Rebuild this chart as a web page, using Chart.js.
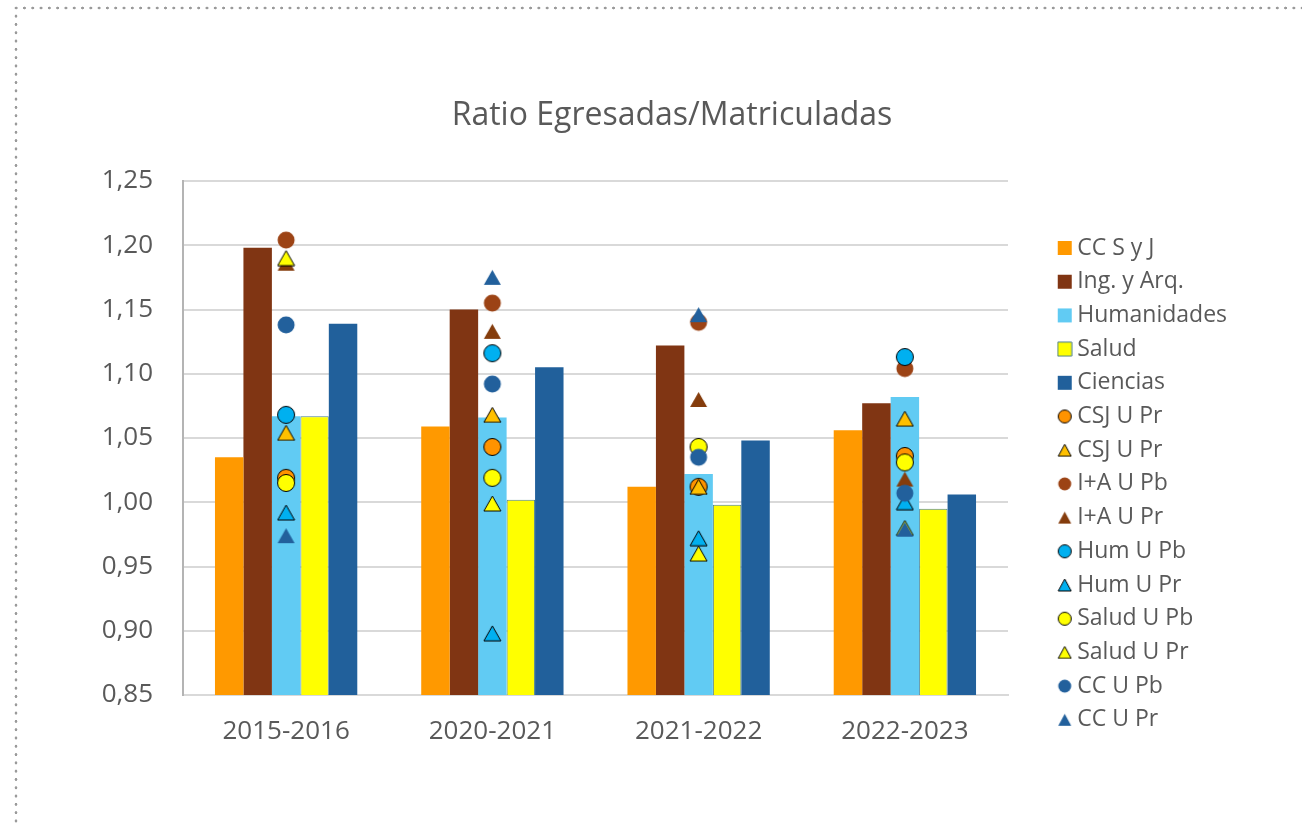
<!DOCTYPE html>
<html>
<head>
<meta charset="utf-8">
<script src="https://cdn.jsdelivr.net/npm/chart.js@4.4.1/dist/chart.umd.min.js"></script>
<style>
  html, body { margin: 0; padding: 0; background: #fff; }
  #wrap { position: relative; width: 1302px; height: 825px; overflow: hidden; }
  #dotTop, #dotLeft {
    position: absolute;
    background-image: radial-gradient(circle, #9a9a9a 1.1px, rgba(0,0,0,0) 1.7px);
  }
  #dotTop { left: 12px; top: 4px; width: 1290px; height: 8px; background-size: 8.3px 8px; background-repeat: repeat-x; }
  #dotLeft { left: 12px; top: 12px; width: 8px; height: 813px; background-size: 8px 8.3px; background-repeat: repeat-y; }
  #myChart { position: absolute; left: 0; top: 0; }
</style>
</head>
<body>
<div id="wrap">
  <div id="dotTop"></div>
  <div id="dotLeft"></div>
  <canvas id="myChart" width="1302" height="825"></canvas>
</div>
<script>
const categories = ['2015-2016', '2020-2021', '2021-2022', '2022-2023'];

// barras
const ccSyJ       = [1.035, 1.059, 1.012, 1.056];
const ingArq      = [1.198, 1.150, 1.122, 1.077];
const humanidades = [1.067, 1.066, 1.022, 1.082];
const salud       = [1.067, 1.002, 0.998, 0.995];
const ciencias    = [1.139, 1.105, 1.048, 1.006];

// puntos (U Pb = universidad pública, U Pr = universidad privada)
const csjPb   = [1.019, 1.043, 1.012, 1.036];
const csjPr   = [1.054, 1.068, 1.012, 1.065];
const iaPb    = [1.204, 1.155, 1.140, 1.104];
const iaPr    = [1.186, 1.133, 1.080, 1.018];
const humPb   = [1.068, 1.116, null, 1.113];
const humPr   = [0.992, 0.898, 0.972, 1.000];
const saludPb = [1.015, 1.019, 1.043, 1.031];
const saludPr = [1.190, 0.999, 0.960, 0.980];
const ccPb    = [1.138, 1.092, 1.035, 1.007];
const ccPr    = [0.974, 1.175, 1.146, 0.979];

const yTicks = [0.85, 0.90, 0.95, 1.00, 1.05, 1.10, 1.15, 1.20, 1.25];

const TEXT = '#595959';
Chart.defaults.font.family = "'Open Sans', 'Noto Sans', sans-serif";
Chart.defaults.color = TEXT;

function marker(shape, fill, stroke, w, h) {
    const c = document.createElement('canvas');
    c.width = w + 2;
    c.height = h + 2;
    const g = c.getContext('2d');
    g.fillStyle = fill;
    g.beginPath();
    if (shape === 'circle') {
        g.arc(c.width / 2, c.height / 2, w / 2 - 0.5, 0, Math.PI * 2);
    } else if (shape === 'triangle') {
        g.moveTo(c.width / 2, 1);
        g.lineTo(c.width - 1, c.height - 1);
        g.lineTo(1, c.height - 1);
        g.closePath();
    } else {
        g.rect(1, 1, w, h);
    }
    g.fill();
    if (stroke) {
        g.strokeStyle = stroke;
        g.lineWidth = 1;
        g.stroke();
    }
    return c;
}

const bars = [
    { label: 'CC S y J', data: ccSyJ, color: '#FF9900' },
    { label: 'Ing. y Arq.', data: ingArq, color: '#803513' },
    { label: 'Humanidades', data: humanidades, color: '#61CBF3' },
    { label: 'Salud', data: salud, color: '#FFFF00', border: '#4a7f8f' },
    { label: 'Ciencias', data: ciencias, color: '#21609B' }
];

const points = [
    { label: 'CSJ U Pr', data: csjPb, shape: 'circle', color: '#FF9300', border: '#000' },
    { label: 'CSJ U Pr', data: csjPr, shape: 'triangle', color: '#FFC000', border: '#000' },
    { label: 'I+A U Pb', data: iaPb, shape: 'circle', color: '#9C4315' },
    { label: 'I+A U Pr', data: iaPr, shape: 'triangle', color: '#843C0C' },
    { label: 'Hum U Pb', data: humPb, shape: 'circle', color: '#00B0F0', border: '#000' },
    { label: 'Hum U Pr', data: humPr, shape: 'triangle', color: '#00B0F0', border: '#000' },
    { label: 'Salud U Pb', data: saludPb, shape: 'circle', color: '#FFFF00', border: '#000' },
    { label: 'Salud U Pr', data: saludPr, shape: 'triangle', color: '#FFFF00', border: '#000' },
    { label: 'CC U Pb', data: ccPb, shape: 'circle', color: '#22609C' },
    { label: 'CC U Pr', data: ccPr, shape: 'triangle', color: '#22609C' }
];

const legendMarkers = [];
const datasets = [];

bars.forEach(b => {
    legendMarkers.push(marker('rect', b.color, b.border, 14, 14));
    datasets.push({
        type: 'bar',
        label: b.label,
        data: b.data,
        backgroundColor: b.color,
        borderColor: b.border || b.color,
        borderWidth: b.border ? 1 : 0,
        categoryPercentage: 0.69,
        barPercentage: 1.0,
        order: 20
    });
});

points.forEach((p, i) => {
    const big = p.shape === 'circle' ? marker('circle', p.color, p.border, 18, 18)
                                      : marker('triangle', p.color, p.border, 17, 15);
    legendMarkers.push(p.shape === 'circle' ? marker('circle', p.color, p.border, 14, 14)
                                             : marker('triangle', p.color, p.border, 13, 12));
    datasets.push({
        type: 'line',
        label: p.label,
        data: p.data,
        showLine: false,
        pointStyle: big,
        pointRadius: 9,
        pointHoverRadius: 9,
        backgroundColor: p.color,
        borderColor: p.border || p.color,
        order: 10 - i
    });
});

// ancho fijo de la leyenda
const legendBox = {
    id: 'legendBox',
    beforeLayout(chart) {
        const lg = chart.legend;
        if (lg && !lg._wrapped) {
            const fit = lg.fit;
            lg.fit = function () { fit.call(this); this.width = 249; };
            lg._wrapped = true;
        }
    }
};

const ctx = document.getElementById('myChart').getContext('2d');
const myChart = new Chart(ctx, {
    type: 'bar',
    data: { labels: categories, datasets: datasets },
    plugins: [legendBox],
    options: {
        responsive: false,
        animation: false,
        layout: { padding: { left: 42, right: 0, top: 0, bottom: 0 } },
        scales: {
            x: {
                grid: { display: false, drawTicks: false },
                border: { display: true, color: '#d9d9d9', width: 2 },
                ticks: { color: TEXT, font: { size: 26 }, padding: 21 },
                afterFit(scale) { scale.height = 130; }
            },
            y: {
                min: 0.85,
                max: 1.25,
                afterBuildTicks(scale) { scale.ticks = yTicks.map(v => ({ value: v })); },
                grid: { color: '#d9d9d9', lineWidth: 2, drawTicks: false },
                border: { display: true, color: '#b4b4b4', width: 2 },
                ticks: {
                    color: TEXT,
                    font: { size: 26 },
                    padding: 30,
                    callback: v => v.toFixed(2).replace('.', ',')
                },
                afterFit(scale) { scale.width = 141; }
            },
            gap: {
                position: 'right',
                display: true,
                grid: { display: false, drawTicks: false },
                border: { display: false },
                ticks: { display: false },
                afterFit(scale) { scale.width = 45; }
            }
        },
        plugins: {
            title: {
                display: true,
                text: 'Ratio Egresadas/Matriculadas',
                color: TEXT,
                font: { size: 32, weight: 'normal' },
                padding: { top: 96.8, bottom: 45.8 }
            },
            legend: {
                position: 'right',
                align: 'start',
                title: { display: true, text: ' ', font: { size: 10 }, padding: { top: 213.8, bottom: 0 } },
                labels: {
                    usePointStyle: true,
                    boxWidth: 2,
                    padding: 10.7,
                    color: TEXT,
                    font: { size: 23 },
                    generateLabels(chart) {
                        const items = Chart.defaults.plugins.legend.labels.generateLabels(chart);
                        items.sort((a, b) => a.datasetIndex - b.datasetIndex);
                        items.forEach(it => { it.pointStyle = legendMarkers[it.datasetIndex]; });
                        return items;
                    }
                }
            },
            tooltip: { enabled: false }
        }
    }
});
</script>
</body>
</html>
